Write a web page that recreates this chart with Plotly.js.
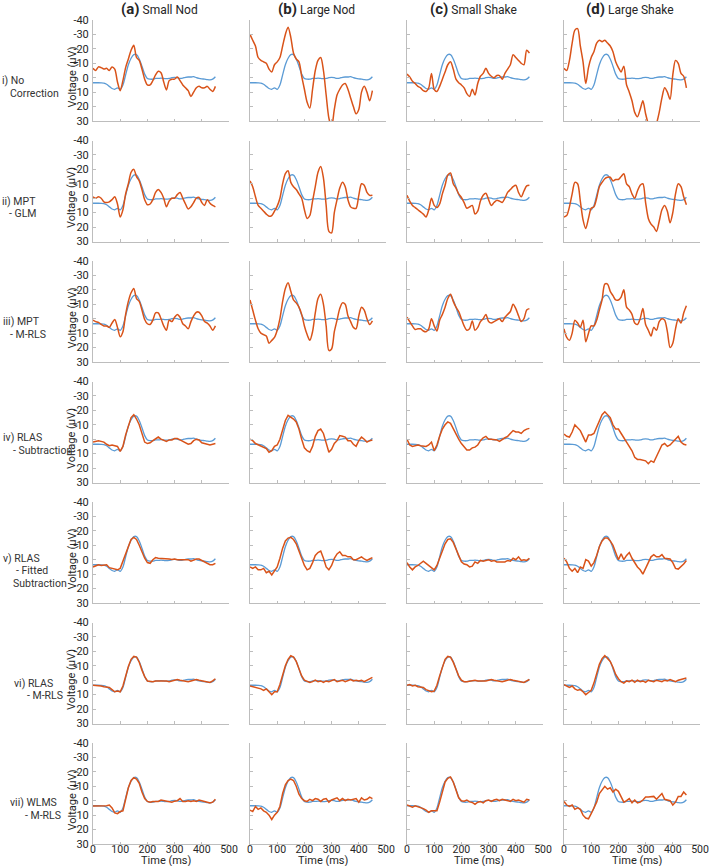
<!DOCTYPE html>
<html><head><meta charset="utf-8">
<script src="https://cdn.plot.ly/plotly-3.0.1.min.js"></script>
<style>html,body{margin:0;padding:0;background:#fff}#chart{width:709px;height:866px}</style>
</head><body><div id="chart"></div>
<script>
const timeMs = [0,10,20,30,40,50,60,70,80,90,100,110,120,130,140,150,160,170,180,190,200,210,220,230,240,250,260,270,280,290,300,310,320,330,340,350,360,370,380,390,400,410,420,430,440,450];
const columnLetters = ["(a)","(b)","(c)","(d)"];
const columnNames = ["Small Nod","Large Nod","Small Shake","Large Shake"];
const rowLabels = [["i) No","Correction"],["ii) MPT","- GLM"],["iii) MPT","- M-RLS"],["iv) RLAS","- Subtraction"],["v) RLAS","- Fitted","Subtraction"],["vi) RLAS","- M-RLS"],["vii) WLMS","- M-RLS"]];
const yTickVals = [-40,-30,-20,-10,0,10,20,30];
const yTickText = ["-40","-30","-20","-10","0","10","20","30"];
const xTickVals = [0,100,200,300,400,500];
const xTickText = ["0","100","200","300","400","500"];
const yTitle = "Voltage (\u03bcV)";
const xTitle = "Time (ms)";

// reference (clean) ERP, blue
const reference = [3.5,3.5,3.5,3.6,3.8,4.5,6,7.5,8,7, 8,5,-2,-9,-13.5,-16,-16,-13,-8,-2.5, 0.5,1,1,0.5,0.5,0.3,0.5,0.7,0.5,0, -0.3,0,0.5,0.3,-0.3,-0.5,-0.5,-0.8,0,0.5, 0.8,1,1.3,1.5,1,-0.7];

// i) No Correction
const noCorr_smallNod = [-6.5,-5,-7.5,-7,-6,-6.5,-5,-7.5,-6,3, 9,2,-7,-13,-19,-22.5,-14,-12,-6,1, 5,5,2,-2,-4.5,-3.5,3,8.5,2,1, 1,-0.5,2,5,7,9,13,10,7,6, 7,7,6,8,9.5,6];
const noCorr_largeNod = [-30,-26,-22,-14,-12,-11,-10,-6,-4,-9, -11,-14,-22,-30,-35,-28,-17,-13,-11,-1, 8,17,21,8,-5,-12,-14,-5,12,28, 34,22,12,8,5,4,8,14,20,25, 22,10,6,10,16,9];
const noCorr_smallShake = [-2.5,-0.5,2.5,4,6,7,9,9.5,7,-3, 8,9.5,6,1,-4,-9,-11,-6,1,3.5, 5,7,11,13,8,12,4,-1,-3,-6.5, -3,-1,0,-1.5,-1.5,1,-3,-6,-9,-16, -14,-12,-10,-9,-19,-17];
const noCorr_largeShake = [-6.5,-5,-12,-24,-33,-34,-22,-11,4,-7, -14,-18,-24,-26,-25,-26,-24,-22,-18,-11, -7,-4,-8,5,10,16,24,27,22,16, 25,32,36,38,32,24,14,7,10,15, -2,-12,-10,-3,-1,7];
// ii) MPT - GLM
const mptGlm_smallNod = [-1,0,-1,0,2.5,3,2.5,1,-1,4, 13,8,-3,-10,-18,-20,-15,-12,-6,1, 4.5,4,1,-4,-6,-4,0,6,2,0, 0,-2.5,-4,0,4,7.5,6,3,0,-0.5, 3,5,1,3.5,5,6];
const mptGlm_largeNod = [-12,-8,-1,5,7,9,11,12.5,12,9, 5.5,0,-10,-17,-19,-11,-8,-6,-3,0, 8,14,12,2,-8,-18,-22,-14,5,23, 24,10,1,-7,-11,-8,1,6,7,7, -2,-10,-9,-4,-2,-2];
const mptGlm_smallShake = [-2,2,5,6.5,8,9.5,11,13,8,0, 5,6.5,4,-3,-9,-16,-17.5,-10,-7,-3, -0.5,3,7,6,5,11,9,2,-2,-3.5, 1,5,3,1.5,2,3,0,-4,-6,-8, -9,-4,-1,-5,-8.5,-9];
const mptGlm_largeShake = [13,12,6,-3,-11,-10,2,15,21,14, 7,6,0,-8,-11,-13.5,-14.5,-14.5,-12,-13, -13,-15,-17,-10,-8,-3,0,-5,-9,-10, 3,14,18,20,23,16,8,5,9,17, 10,-3,-10,-8,-1,4.5];
// iii) MPT - M-RLS
const mptMrls_smallNod = [1,2,2.5,4,5,5,6,3,0.5,6, 12.5,9,-3,-12,-18,-21,-14,-12,-6,0.5, 3.5,4,1,-4,-4,0,5,8,1,2, -1,-3,-1,3.5,5,7,2,-2,-4.5,-4.5, -2,2,3,5,8,5];
const mptMrls_largeNod = [-13,-6,1,7,10,11,12,17,15,13, 8,0,-12,-21,-25,-19,-13,-11,-8,-3, 5,11,15,9,-4,-14,-17,-10,5,22, 21,9,1,-7,-11,-10,-2,2,6,7, -2,-8,-6,0,4,1.5];
const mptMrls_smallShake = [-1,2,5,7.5,7,7,8.5,9,7,0, 5,8.5,1,-3,-8,-14,-17,-12,-8,-5, 0,5,8,7,1.5,8,6,2,0,-3, 2,3,2,1,0,2,-1,-3,-5,-10, -7,-2,2,0,-6,-7];
const mptMrls_largeShake = [7,13,15,10,1,3,6,1,16,10, 5,5,1,-6,-13,-24,-24,-19,-16,-13, -13,-15,-20,-8,-6,-3,3,4,0,-7, 4,8,12,6,8,2,0,1,9,20, 17,7,0,3,-4,-9];
// iv) RLAS - Subtraction
const rlasSub_smallNod = [2,1.5,1,1.5,2,3.5,4.5,4,4.5,5, 8.5,5,-3,-10,-15,-17,-14,-10,-4,2, 3,2.5,1,-0.5,-1.5,0,1,1.5,0.5,0.5, -0.5,-0.5,0.5,1.5,2.5,3.5,3,1,0,0.5, 2.5,3,3,4,3.5,3];
const rlasSub_largeNod = [0,1,3,4,5,6,6.5,9,8,5, 4,0,-7,-13,-16.5,-15.5,-14,-12,-7,0, 6,8,9,5,-2,-6,-7,-4,3,9, 7,3,1,-2.5,-2,-1.5,1,1,3.5,5, 1,-1.5,0,2,1,0.5];
const rlasSub_smallShake = [0,4,5,4.5,4,4.5,5,5,4,2, 8,4,-2,-7,-10,-12,-11,-7,-3,0, 3,5.5,7.5,7.5,6,5.5,4,1,-1,-2, 0,0,0,0.5,1.5,0,-1,-2,-4,-6, -5,-5,-4,-6,-7,-7.5];
const rlasSub_largeShake = [-3.5,-2,-1.5,-5,-10,-8,-6,-2,2,-3, -3,-4,-8,-13,-17,-19,-17,-15,-10,-7, -7,-3.5,-1,2,5,8,12.5,14,14,14.5, 15,17,15,16,12,7,4,3,5,4, 2,0,-2,2,3.5,4];
// v) RLAS - Fitted Subtraction
const rlasFit_smallNod = [5,4,3.5,4,4,3.5,5.5,6,6,7, 6,1,-5,-10,-14,-15.5,-14,-10,-5,-1, 2,2.5,0,-1.5,-1,-1,-0.5,-0.5,-0.5,-0.2, -0.5,0,0,0,0.2,0,1,0,-0.5,-0.5, 0.5,1.5,3,3.5,3.5,2.5];
const rlasFit_largeNod = [5,6,5,7,7,6,9,8,10.5,8, 5,-1,-8,-13,-15,-15.5,-14,-11,-6,-1, 4,7,6,2,-3,-5,-6,-1,5,7, 4,-1,-4,-5.5,-3,-3,-2,-2,0,0, -1,-2,-0.5,0.5,-0.5,-1.5];
const rlasFit_smallShake = [2,5,7,5,4,2.5,1,2.5,4,6, 7,4,-1,-7,-11,-14,-14.5,-12,-8,-3, 1.5,3,3.5,5,4.5,1.5,2.5,0.5,1,0.5, 0,1,0.5,1.5,1.5,1,1.5,0.5,1,-1, 0,-2,0.5,0,0.5,-1];
const rlasFit_largeShake = [-1,1.5,6,8,6,9,5,6,0,1, 4.5,2,-3,-9,-13,-15,-15,-13,-10,-5, 0,-4,0,-3,-5,-1,2,5,7,10, 6,1.5,-2,-3.5,-2,-2,-3.5,-1,-0.5,-0.5, 2,6,6.5,5,3,0.5];
// vi) RLAS - M-RLS
const rlasMrls_smallNod = [3.5,3.5,3.5,4,4.5,4.5,5,6.5,8,7.5, 8,4,-3,-9.5,-14.5,-16.5,-16,-12.5,-7,-2.5, 0.5,1,1,0.5,0.5,0,0.5,0.5,1,0.5, 0,-0.5,0,0.5,0.5,1,0.5,0,-0.5,0, 0.5,1,1.5,1.5,0.5,-1];
const rlasMrls_largeNod = [4,4.5,5,5,6,7,6,8,10,8, 8,3,-4,-10,-14.5,-17,-16,-13,-8,-3, 0,0.5,1.5,1,0,1,0.5,1.5,0.5,1, 0,-0.5,1,0.5,0,1,0,-0.5,0.5,0, 0.5,0,1,0,-1,-2];
const rlasMrls_smallShake = [3.5,3,4,3.5,4.5,5,5,6.5,7.5,8, 7.5,3.5,-3,-9.5,-14.5,-16.5,-16,-12.5,-7.5,-3, 0,1,1,0.5,0.5,0,0.5,0.5,1,0.5, 0,-0.5,0,0.5,0.5,1,0.5,0,-0.5,0, 0.5,1,1.5,1.5,0.5,-0.5];
const rlasMrls_largeShake = [3,4,5,4,6,7,6.5,8,10,8.5, 7,2,-5,-11,-15,-17,-15,-13,-9,-4, -1,1,2,0.5,1,0,1.5,0,1,0.5, 1.5,0,0.5,1,0,0.5,1,0,0.5,-0.5, 0,1,0,-0.5,-1,-1.5];
// vii) WLMS - M-RLS
const wlmsMrls_smallNod = [3.7,3.7,4,3.5,4,3.5,3,5,8.5,9, 7.5,7,-1,-9,-14,-16,-15,-12,-6,-1.5, 0.5,1,0.5,0.3,0.5,-0.5,0,0.5,0.5,1, 0.3,0,-1.5,0.5,0.5,0,0.5,0,0.5,-0.5, 0,0.5,1,1.5,1,-1];
const wlmsMrls_largeNod = [6.5,7.5,4,6,5,7,8,10,13,10, 8,4,-5,-11,-14,-15,-14,-10,-4.5,-1.5, 0,0.5,-1,0,-1.5,-1,0.5,-1,-1.5,1, -0.5,-1.5,-2,0,-1.5,0,-1,-0.5,-1,-1.5, 1,-2,-0.5,-1,-2.5,-1.5];
const wlmsMrls_smallShake = [3,3.5,4.5,3.5,4,5,5.5,6.5,8,7, 7,7,1,-7,-13,-15.5,-16.5,-13,-7.5,-2, 0,0.3,-0.5,0.8,1.2,2.5,1,0.5,1.5,0, -0.5,0.5,-0.5,-1,0,-1,-0.5,0,0.5,-1, 0,-0.5,0.5,1,-1,-0.5];
const wlmsMrls_largeShake = [0.5,3,4,3,6,5,6,10,12,12.5, 9,5,1,-5,-7.5,-10,-8,-9,-6,-8, -6.5,-3,1,0,-1.5,1.5,-0.5,1.5,1,-0.5, -2.5,-2.5,-2.5,-3,-1,-3,-5,-1,-0.5,0, 3,1,-3,-3,-6,-4];

const corrected = [
  [noCorr_smallNod, noCorr_largeNod, noCorr_smallShake, noCorr_largeShake],
  [mptGlm_smallNod, mptGlm_largeNod, mptGlm_smallShake, mptGlm_largeShake],
  [mptMrls_smallNod, mptMrls_largeNod, mptMrls_smallShake, mptMrls_largeShake],
  [rlasSub_smallNod, rlasSub_largeNod, rlasSub_smallShake, rlasSub_largeShake],
  [rlasFit_smallNod, rlasFit_largeNod, rlasFit_smallShake, rlasFit_largeShake],
  [rlasMrls_smallNod, rlasMrls_largeNod, rlasMrls_smallShake, rlasMrls_largeShake],
  [wlmsMrls_smallNod, wlmsMrls_largeNod, wlmsMrls_smallShake, wlmsMrls_largeShake]
];

// ---------- layout geometry (pixels) ----------
const W = 709, H = 866;
const colLeft = [93, 250, 407, 564], PW = 136;
const rowTop = [20, 140.5, 261, 381.5, 502, 622.5, 743], PH = 101;
const px = v => v / W;
const py = v => 1 - v / H;
const FONT = "Roboto, 'Open Sans', sans-serif";
const BLUE = "#5b9bd5", ORANGE = "#d95319";

const traces = [];
const layout = {
  width: W, height: H, margin: {l: 0, r: 0, t: 0, b: 0},
  paper_bgcolor: "#fff", plot_bgcolor: "#fff", showlegend: false,
  font: {family: FONT, color: "#262626", size: 11},
  annotations: []
};

for (let r = 0; r < 7; r++) {
  for (let c = 0; c < 4; c++) {
    const k = r * 4 + c + 1;
    const xa = "x" + k, ya = "y" + k;
    traces.push({x: timeMs, y: reference, xaxis: xa, yaxis: ya, type: "scatter", mode: "lines",
      line: {color: BLUE, width: 1.3, shape: "spline", smoothing: 0.8}, hoverinfo: "skip"});
    traces.push({x: timeMs, y: corrected[r][c], xaxis: xa, yaxis: ya, type: "scatter", mode: "lines",
      line: {color: ORANGE, width: 1.5, shape: r < 3 ? "spline" : "linear", smoothing: 0.8}, hoverinfo: "skip"});
    const axCommon = {showgrid: false, zeroline: false, showline: true, linecolor: "#bdbdbd", linewidth: 1,
      ticks: "inside", ticklen: 2.5, tickcolor: "#bdbdbd", tickwidth: 1, fixedrange: true,
      tickfont: {family: FONT, size: 11, color: "#262626"}};
    layout["xaxis" + k] = Object.assign({}, axCommon, {
      domain: [px(colLeft[c]), px(colLeft[c] + PW)], anchor: ya, range: [0, 500],
      tickmode: "array", tickvals: xTickVals, ticktext: xTickText, showticklabels: r === 6,
      ticklabelstandoff: -5, tickfont: {family: FONT, size: 10.5, color: "#262626"}
    });
    layout["yaxis" + k] = Object.assign({}, axCommon, {
      domain: [py(rowTop[r] + PH), py(rowTop[r])], anchor: xa, range: [30, -40],
      tickmode: "array", tickvals: yTickVals, ticktext: yTickText, showticklabels: c === 0,
      ticklabelstandoff: 1
    });
  }
}

// column titles and x titles
for (let c = 0; c < 4; c++) {
  layout.annotations.push({xref: "paper", yref: "paper", x: px(colLeft[c] + PW / 2 - 2), y: py(9),
    xanchor: "center", yanchor: "middle", showarrow: false,
    text: '<span style="font-size:15px;font-weight:bold">' + columnLetters[c] + '</span> ' + columnNames[c],
    font: {family: FONT, size: 12, color: "#262626"}});
  layout.annotations.push({xref: "paper", yref: "paper", x: px(colLeft[c] + 73), y: py(860.5),
    xanchor: "center", yanchor: "middle", showarrow: false, text: xTitle,
    font: {family: FONT, size: 11, color: "#262626"}});
}

// row labels and y titles
const lineIndent = [[0, 8], [0, 7], [1, 8], [1, 11], [1, 14, 11], [12, 25], [8, 23]];
const blockCenter = [67, 67, 67, 62.5, 68.5, 67, 66];
for (let r = 0; r < 7; r++) {
  const lines = rowLabels[r];
  const n = lines.length, step = 12.5;
  for (let i = 0; i < n; i++) {
    const yc = rowTop[r] + blockCenter[r] + (i - (n - 1) / 2) * step;
    layout.annotations.push({xref: "paper", yref: "paper", x: px(lineIndent[r][i]), y: py(yc),
      xanchor: "left", yanchor: "middle", showarrow: false, text: lines[i],
      font: {family: FONT, size: 10.5, color: "#333"}});
  }
  layout.annotations.push({xref: "paper", yref: "paper", x: px(71.5), y: py(rowTop[r] + 57),
    xanchor: "center", yanchor: "middle", showarrow: false, textangle: -90, text: yTitle,
    font: {family: FONT, size: 11, color: "#262626"}});
}

Plotly.newPlot("chart", traces, layout, {staticPlot: true, displayModeBar: false});
</script>
</body></html>
